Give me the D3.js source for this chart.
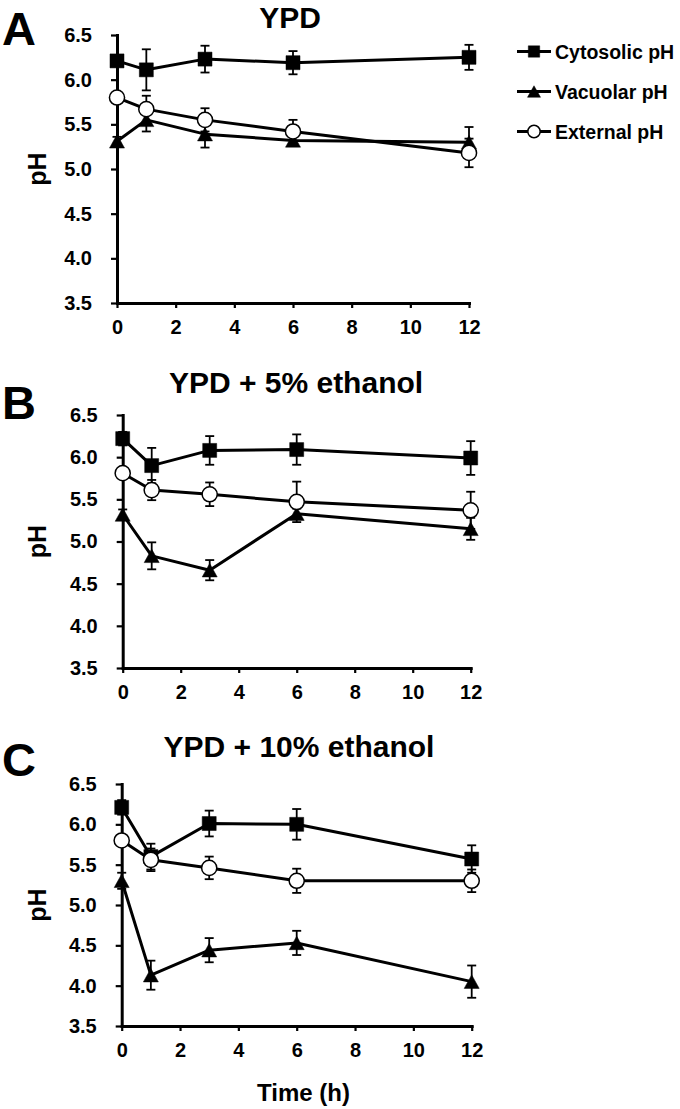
<!DOCTYPE html>
<html><head><meta charset="utf-8">
<script src="https://cdn.jsdelivr.net/npm/d3@7"></script>
<style>
body{margin:0;background:#fff}
text{font-family:"Liberation Sans",Arial,Helvetica,sans-serif;font-weight:bold;fill:#000}
</style>
</head><body>
<svg id="chart" width="680" height="1109"></svg>
<script>
// ---------- data ----------
const times = [0, 1, 3, 6, 12];
const xTicks = [0, 2, 4, 6, 8, 10, 12];
const yTicks = [3.5, 4.0, 4.5, 5.0, 5.5, 6.0, 6.5];
const panelLetters = ["A", "B", "C"];
const panelTitles = ["YPD", "YPD + 5% ethanol", "YPD + 10% ethanol"];
const seriesNames = ["Cytosolic pH", "Vacuolar pH", "External pH"];

const cytosolicA = [6.21, 6.11, 6.23, 6.19, 6.25];
const cytosolicAErr = [0.05, 0.23, 0.15, 0.13, 0.14];
const vacuolarA = [5.31, 5.55, 5.39, 5.32, 5.30];
const vacuolarAErr = [0.05, 0.13, 0.15, 0.05, 0.17];
const externalA = [5.80, 5.67, 5.55, 5.42, 5.18];
const externalAErr = [0.06, 0.15, 0.13, 0.13, 0.16];

const cytosolicB = [6.22, 5.90, 6.08, 6.09, 5.99];
const cytosolicBErr = [0.08, 0.21, 0.17, 0.18, 0.20];
const vacuolarB = [5.32, 4.83, 4.66, 5.33, 5.15];
const vacuolarBErr = [0.06, 0.16, 0.12, 0.06, 0.13];
const externalB = [5.81, 5.61, 5.56, 5.47, 5.37];
const externalBErr = [0.06, 0.12, 0.14, 0.24, 0.22];

const cytosolicC = [6.21, 5.60, 6.01, 6.00, 5.57];
const cytosolicCErr = [0.09, 0.16, 0.16, 0.19, 0.17];
const vacuolarC = [5.30, 4.13, 4.44, 4.53, 4.05];
const vacuolarCErr = [0.10, 0.18, 0.15, 0.15, 0.20];
const externalC = [5.80, 5.56, 5.46, 5.30, 5.30];
const externalCErr = [0.06, 0.14, 0.14, 0.15, 0.14];

// ---------- layout ----------
const layouts = [
  {left:117,   right:469,   top:35,  bottom:303,  letterY:45,  titleX:290, titleY:27.5},
  {left:122.7, right:470.7, top:415, bottom:668,  letterY:419, titleX:296, titleY:393},
  {left:121.7, right:471.7, top:784, bottom:1026, letterY:776, titleX:299, titleY:757}
];
const panelSeries = [
  [[cytosolicA, cytosolicAErr], [vacuolarA, vacuolarAErr], [externalA, externalAErr]],
  [[cytosolicB, cytosolicBErr], [vacuolarB, vacuolarBErr], [externalB, externalBErr]],
  [[cytosolicC, cytosolicCErr], [vacuolarC, vacuolarCErr], [externalC, externalCErr]]
];

const svg = d3.select("#chart");

const triPath = (w, h) => `M0,${-h/2}L${w/2},${h/2}L${-w/2},${h/2}Z`;
const markerPath = [
  d3.symbol(d3.symbolSquare, 196)(),
  triPath(15, 13.5),
  d3.symbol(d3.symbolCircle, 180)()
];
const legendMarkerPath = [
  d3.symbol(d3.symbolSquare, 130)(),
  triPath(13, 11.5),
  d3.symbol(d3.symbolCircle, 120)()
];

function styleMarker(sel, i) {
  sel.attr("fill", i === 2 ? "#fff" : "#000")
     .attr("stroke", "#000")
     .attr("stroke-width", i === 2 ? 1.5 : 0.5);
}

layouts.forEach((L, p) => {
  const x = d3.scaleLinear().domain([0, 12]).range([L.left, L.right]);
  const y = d3.scaleLinear().domain([3.5, 6.5]).range([L.bottom, L.top]);
  const g = svg.append("g");

  // panel letter & title
  g.append("text").attr("x", 2).attr("y", L.letterY)
    .attr("font-size", 47).text(panelLetters[p]);
  g.append("text").attr("x", L.titleX).attr("y", L.titleY)
    .attr("text-anchor", "middle").attr("font-size", 30).text(panelTitles[p]);

  // axes
  const ya = g.append("g").attr("transform", `translate(${L.left},0)`)
    .call(d3.axisLeft(y).tickValues(yTicks).tickFormat(d3.format(".1f"))
      .tickSize(6).tickPadding(19).tickSizeOuter(0));
  const xa = g.append("g").attr("transform", `translate(0,${L.bottom})`)
    .call(d3.axisBottom(x).tickValues(xTicks).tickFormat(d3.format("d"))
      .tickSize(5).tickPadding(12).tickSizeOuter(0));
  [ya, xa].forEach(a => {
    a.select(".domain").attr("stroke", "#000").attr("stroke-width", 3)
      .attr("stroke-linecap", "square");
    a.selectAll(".tick line").attr("stroke", "#000").attr("stroke-width", 2.2);
    a.selectAll(".tick text").attr("font-size", 20)
      .attr("font-family", '"Liberation Sans",Arial,sans-serif')
      .attr("font-weight", "bold").attr("fill", "#000");
  });

  // y label
  g.append("text")
    .attr("transform", `translate(46,${(L.top + L.bottom) / 2}) rotate(-90)`)
    .attr("text-anchor", "middle").attr("font-size", 25).text("pH");

  const series = panelSeries[p];
  const line = d3.line().x((d, i) => x(times[i])).y(d => y(d));

  // lines
  series.forEach(([vals]) => {
    g.append("path").attr("d", line(vals)).attr("fill", "none")
      .attr("stroke", "#000").attr("stroke-width", 3).attr("stroke-linejoin", "round");
  });

  // error bars
  series.forEach(([vals, errs]) => {
    vals.forEach((v, i) => {
      const cx = x(times[i]);
      const eb = g.append("g").attr("stroke", "#000").attr("stroke-width", 1.8);
      eb.append("line").attr("x1", cx).attr("x2", cx).attr("y1", y(v - errs[i])).attr("y2", y(v + errs[i]));
      [v - errs[i], v + errs[i]].forEach(e => {
        eb.append("line").attr("x1", cx - 4.5).attr("x2", cx + 4.5).attr("y1", y(e)).attr("y2", y(e));
      });
    });
  });

  // markers
  series.forEach(([vals], s) => {
    vals.forEach((v, i) => {
      g.append("path").attr("d", markerPath[s])
        .attr("transform", `translate(${x(times[i])},${y(v)})`)
        .call(styleMarker, s);
    });
  });
});

// x label
svg.append("text").attr("x", 303.5).attr("y", 1101)
  .attr("text-anchor", "middle").attr("font-size", 24).text("Time (h)");

// legend
const legendY = [51.5, 91.5, 131.5];
seriesNames.forEach((name, s) => {
  const lg = svg.append("g").attr("transform", `translate(0,${legendY[s]})`);
  lg.append("line").attr("x1", 517).attr("x2", 551).attr("y1", 0).attr("y2", 0)
    .attr("stroke", "#000").attr("stroke-width", 3);
  lg.append("path").attr("d", legendMarkerPath[s])
    .attr("transform", "translate(534,0)").call(styleMarker, s);
  lg.append("text").attr("x", 555).attr("y", 0).attr("dy", "0.36em")
    .attr("font-size", 19.5).text(name);
});
</script>
</body></html>
